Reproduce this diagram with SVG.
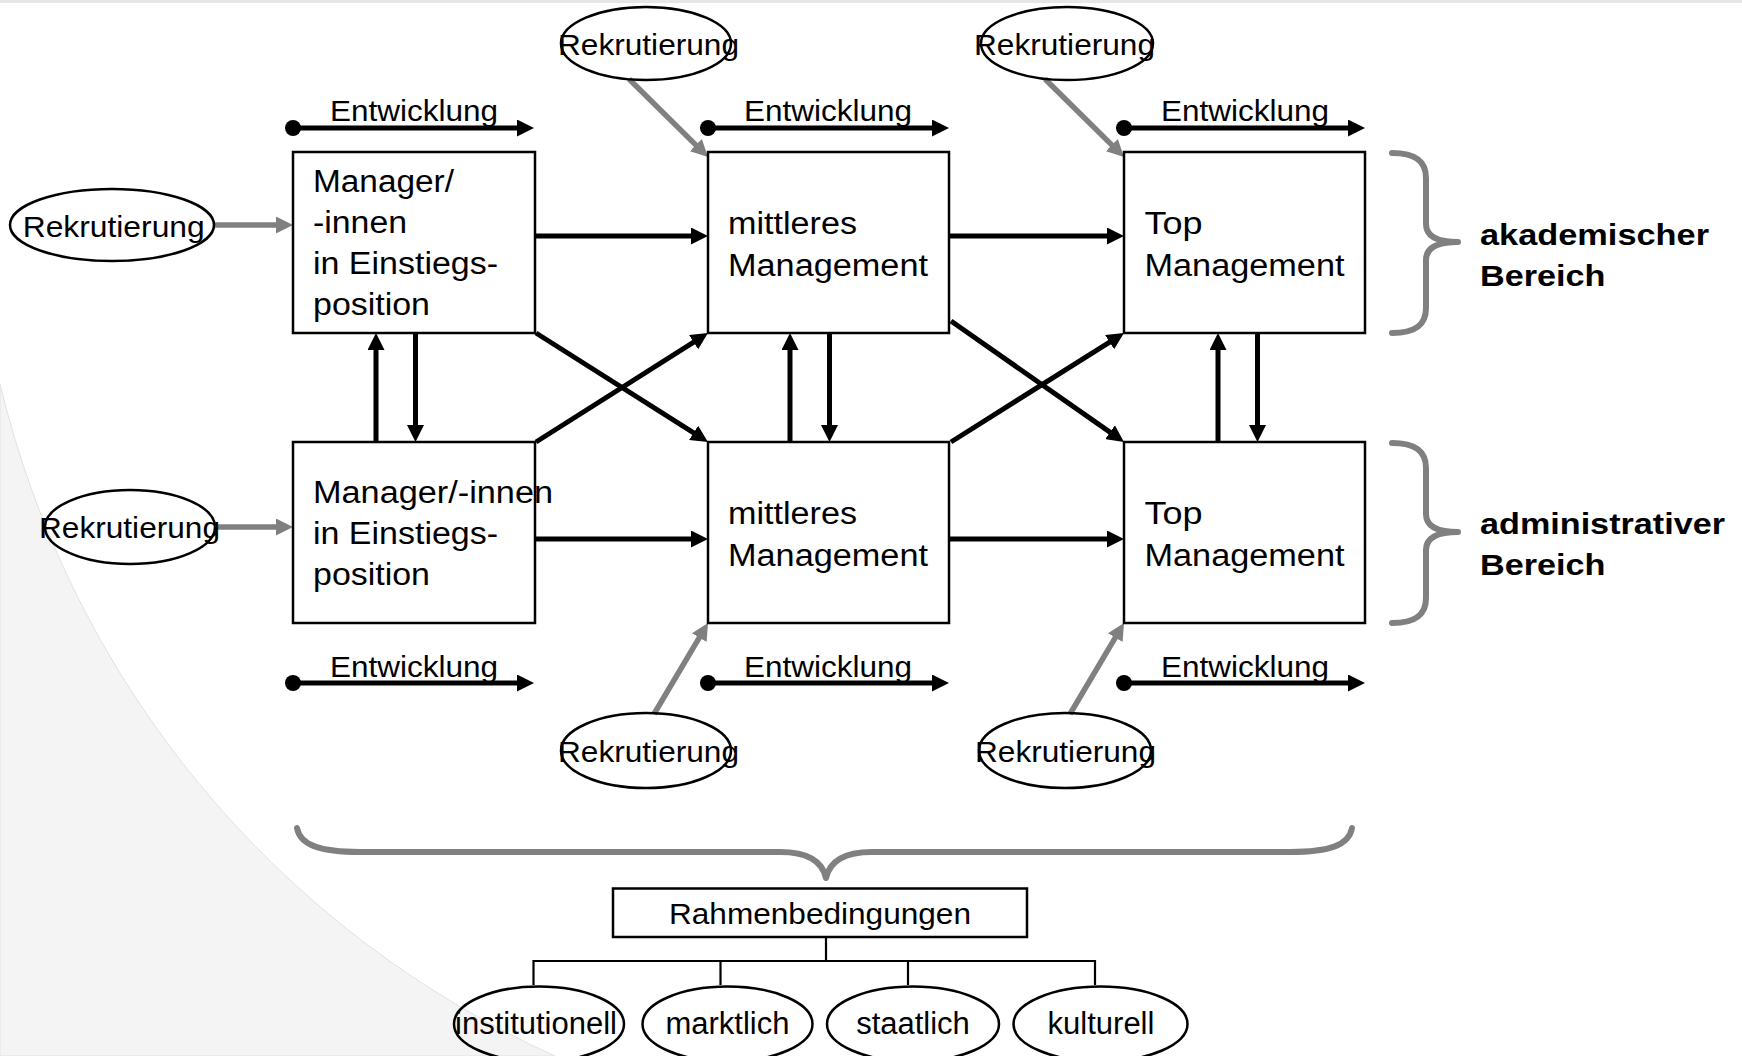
<svg xmlns="http://www.w3.org/2000/svg" width="1742" height="1056" viewBox="0 0 1742 1056">
<defs>
<style>
text{font-family:"Liberation Sans",Arial,Helvetica,sans-serif;fill:#000}
.box{fill:#fff;stroke:#000;stroke-width:2.5}
.ell{fill:none;stroke:#000;stroke-width:2.5}
.t31{font-size:31px}
.t30{font-size:30px}
.t29{font-size:29px}
.bold{font-size:30px;font-weight:bold}
.blk{fill:none;stroke:#000;stroke-width:5;marker-end:url(#ah)}
.gry{fill:none;stroke:#808080;stroke-width:5.5;marker-end:url(#ahg)}
.brace{fill:none;stroke:#808080;stroke-width:6;stroke-linecap:round;stroke-linejoin:round}
.thin{fill:none;stroke:#000;stroke-width:2.2}
</style>
<marker id="ah" viewBox="0 0 17 17" refX="9" refY="8.5" markerWidth="17" markerHeight="17" orient="auto" markerUnits="userSpaceOnUse"><path d="M0,0 L17,8.5 L0,17 Z" fill="#000"/></marker>
<marker id="ahg" viewBox="0 0 17 17" refX="9" refY="8.5" markerWidth="17" markerHeight="17" orient="auto" markerUnits="userSpaceOnUse"><path d="M0,0 L17,8.5 L0,17 Z" fill="#808080"/></marker>
</defs>
<rect x="0" y="0" width="1742" height="1056" fill="#fff"/>
<path d="M0,383.6 A990,990 0 0 0 555,1056 L0,1056 Z" fill="#f4f4f4" stroke="#e2e2e2" stroke-width="1"/>
<rect x="0" y="0" width="1742" height="3" fill="#e6e6e6"/>

<g id="connectors">
  <!-- Entwicklung arrows -->
  <circle cx="293" cy="128" r="8"/><path class="blk" d="M293,128 H526"/>
  <circle cx="708" cy="128" r="8"/><path class="blk" d="M708,128 H941"/>
  <circle cx="1124" cy="128" r="8"/><path class="blk" d="M1124,128 H1357"/>
  <circle cx="293" cy="683" r="8"/><path class="blk" d="M293,683 H526"/>
  <circle cx="708" cy="683" r="8"/><path class="blk" d="M708,683 H941"/>
  <circle cx="1124" cy="683" r="8"/><path class="blk" d="M1124,683 H1357"/>
  <!-- horizontal -->
  <path class="blk" d="M535,236 H700"/>
  <path class="blk" d="M950,236 H1116"/>
  <path class="blk" d="M535,539 H700"/>
  <path class="blk" d="M950,539 H1116"/>
  <!-- vertical -->
  <path class="blk" d="M376,442 V341"/>
  <path class="blk" d="M415.5,333 V434"/>
  <path class="blk" d="M790,442 V341"/>
  <path class="blk" d="M829.5,333 V434"/>
  <path class="blk" d="M1218,442 V341"/>
  <path class="blk" d="M1257.5,333 V434"/>
  <!-- diagonals -->
  <path class="blk" d="M536,333 L701.2,437.7"/>
  <path class="blk" d="M536,442 L701.2,337.3"/>
  <path class="blk" d="M951,321 L1117.4,437.4"/>
  <path class="blk" d="M951,442 L1117.2,337.3"/>
  <!-- Rekrutierung (gray) -->
  <path class="gry" d="M214,225 H285"/>
  <path class="gry" d="M215,527 H285"/>
  <path class="gry" d="M629,79 L702.3,151.4"/>
  <path class="gry" d="M1045,79 L1118.3,151.4"/>
  <path class="gry" d="M654,714 L703.9,629.9"/>
  <path class="gry" d="M1070,714 L1119.9,629.9"/>
  <!-- tree -->
  <path class="thin" d="M826,937 V961 M533.5,961 H1095 M533.5,960 V985 M720.5,961 V985 M908,961 V985 M1095,960 V985"/>
</g>

<g id="braces">
  <path class="brace" d="M1392,153 C1414,153 1426,160 1426,178 L1426,224 C1426,236 1436,242 1458,242 C1436,242 1426,248 1426,260 L1426,308 C1426,326 1414,333 1392,333"/>
  <path class="brace" d="M1392,443 C1414,443 1426,450 1426,468 L1426,514 C1426,526 1436,532 1458,532 C1436,532 1426,538 1426,550 L1426,598 C1426,616 1414,623 1392,623"/>
  <path class="brace" d="M297,828 C300,845 320,852 360,852 L780,852 C805,852 822,860 826,878 C830,860 847,852 872,852 L1290,852 C1330,852 1349,845 1352,828"/>
</g>

<g id="n-box1a"><rect class="box" x="293" y="152" width="242" height="181"/>
  <text class="t31" x="313" y="192" textLength="141" lengthAdjust="spacingAndGlyphs">Manager/</text>
  <text class="t31" x="313" y="233" textLength="94" lengthAdjust="spacingAndGlyphs">-innen</text>
  <text class="t31" x="313" y="274" textLength="185" lengthAdjust="spacingAndGlyphs">in Einstiegs-</text>
  <text class="t31" x="313" y="315" textLength="117" lengthAdjust="spacingAndGlyphs">position</text>
</g>
<g id="n-box2a"><rect class="box" x="708" y="152" width="241" height="181"/>
  <text class="t31" x="728" y="234" textLength="129" lengthAdjust="spacingAndGlyphs">mittleres</text>
  <text class="t31" x="728" y="276" textLength="200" lengthAdjust="spacingAndGlyphs">Management</text>
</g>
<g id="n-box3a"><rect class="box" x="1124" y="152" width="241" height="181"/>
  <text class="t31" x="1144.5" y="234" textLength="58" lengthAdjust="spacingAndGlyphs">Top</text>
  <text class="t31" x="1144.5" y="276" textLength="200" lengthAdjust="spacingAndGlyphs">Management</text>
</g>
<g id="n-box1b"><rect class="box" x="293" y="442" width="242" height="181"/>
  <text class="t31" x="313" y="503" textLength="240" lengthAdjust="spacingAndGlyphs">Manager/-innen</text>
  <text class="t31" x="313" y="544" textLength="185" lengthAdjust="spacingAndGlyphs">in Einstiegs-</text>
  <text class="t31" x="313" y="585" textLength="117" lengthAdjust="spacingAndGlyphs">position</text>
</g>
<g id="n-box2b"><rect class="box" x="708" y="442" width="241" height="181"/>
  <text class="t31" x="728" y="524" textLength="129" lengthAdjust="spacingAndGlyphs">mittleres</text>
  <text class="t31" x="728" y="566" textLength="200" lengthAdjust="spacingAndGlyphs">Management</text>
</g>
<g id="n-box3b"><rect class="box" x="1124" y="442" width="241" height="181"/>
  <text class="t31" x="1144.5" y="524" textLength="58" lengthAdjust="spacingAndGlyphs">Top</text>
  <text class="t31" x="1144.5" y="566" textLength="200" lengthAdjust="spacingAndGlyphs">Management</text>
</g>

<g id="entwicklung-labels">
  <text class="t29" x="330" y="121" textLength="168" lengthAdjust="spacingAndGlyphs">Entwicklung</text>
  <text class="t29" x="744" y="121" textLength="168" lengthAdjust="spacingAndGlyphs">Entwicklung</text>
  <text class="t29" x="1161" y="121" textLength="168" lengthAdjust="spacingAndGlyphs">Entwicklung</text>
  <text class="t29" x="330" y="676.5" textLength="168" lengthAdjust="spacingAndGlyphs">Entwicklung</text>
  <text class="t29" x="744" y="676.5" textLength="168" lengthAdjust="spacingAndGlyphs">Entwicklung</text>
  <text class="t29" x="1161" y="676.5" textLength="168" lengthAdjust="spacingAndGlyphs">Entwicklung</text>
</g>

<g id="n-rek1"><ellipse class="ell" cx="112" cy="225" rx="102" ry="36"/>
  <text class="t30" x="22.7" y="236.5" textLength="182" lengthAdjust="spacingAndGlyphs">Rekrutierung</text></g>
<g id="n-rek2"><ellipse class="ell" cx="130" cy="527" rx="85" ry="37"/>
  <text class="t30" x="39" y="538" textLength="181" lengthAdjust="spacingAndGlyphs">Rekrutierung</text></g>
<g id="n-rek3"><ellipse class="ell" cx="646" cy="43.5" rx="85" ry="36.5"/>
  <text class="t30" x="558" y="54.5" textLength="181" lengthAdjust="spacingAndGlyphs">Rekrutierung</text></g>
<g id="n-rek4"><ellipse class="ell" cx="1067" cy="43.5" rx="86" ry="36.5"/>
  <text class="t30" x="974" y="54.5" textLength="181" lengthAdjust="spacingAndGlyphs">Rekrutierung</text></g>
<g id="n-rek5"><ellipse class="ell" cx="646" cy="750.5" rx="85" ry="37.5"/>
  <text class="t30" x="558" y="762" textLength="181" lengthAdjust="spacingAndGlyphs">Rekrutierung</text></g>
<g id="n-rek6"><ellipse class="ell" cx="1065" cy="750.5" rx="86" ry="37.5"/>
  <text class="t30" x="975" y="762" textLength="181" lengthAdjust="spacingAndGlyphs">Rekrutierung</text></g>

<g id="n-akad">
  <text class="bold" x="1480" y="244.5" textLength="229" lengthAdjust="spacingAndGlyphs">akademischer</text>
  <text class="bold" x="1480" y="285.5" textLength="125.5" lengthAdjust="spacingAndGlyphs">Bereich</text>
</g>
<g id="n-admin">
  <text class="bold" x="1480" y="534" textLength="245" lengthAdjust="spacingAndGlyphs">administrativer</text>
  <text class="bold" x="1480" y="575" textLength="125.5" lengthAdjust="spacingAndGlyphs">Bereich</text>
</g>

<g id="n-rahmen"><rect class="box" x="613" y="888.5" width="414" height="48.5"/>
  <text class="t29" x="669" y="924" textLength="302" lengthAdjust="spacingAndGlyphs">Rahmenbedingungen</text></g>
<g id="n-inst"><ellipse class="ell" cx="539" cy="1024" rx="85" ry="37.5"/>
  <text class="t31" x="536" y="1034.3" text-anchor="middle">institutionell</text></g>
<g id="n-markt"><ellipse class="ell" cx="727.5" cy="1024" rx="85" ry="37.5"/>
  <text class="t31" x="727.5" y="1034.3" text-anchor="middle">marktlich</text></g>
<g id="n-staat"><ellipse class="ell" cx="913" cy="1024" rx="86" ry="37.5"/>
  <text class="t31" x="913" y="1034.3" text-anchor="middle">staatlich</text></g>
<g id="n-kult"><ellipse class="ell" cx="1100.5" cy="1024" rx="87" ry="37.5"/>
  <text class="t31" x="1101" y="1034.3" text-anchor="middle">kulturell</text></g>
</svg>
